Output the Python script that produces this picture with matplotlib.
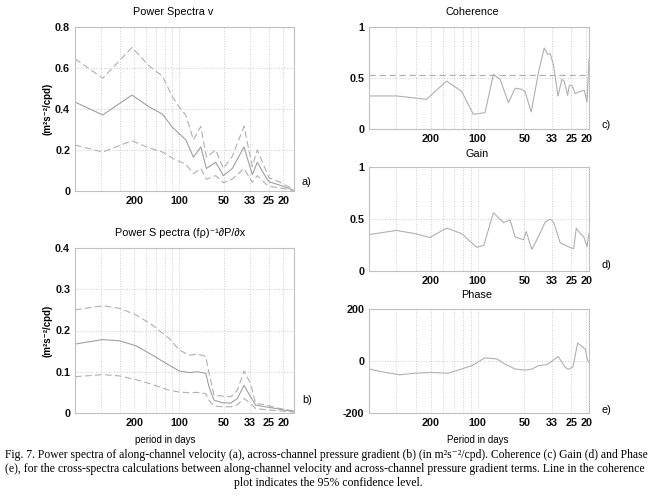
import numpy as np
import matplotlib
matplotlib.use("Agg")
import matplotlib.pyplot as plt

plt.rcParams['font.family'] = ['Liberation Sans', 'DejaVu Sans']

# x values are frequencies in cycles per day, tick labels give the period in days
tick_freq = [0.005, 0.01, 0.02, 0.03, 0.04, 0.05]
tick_period = ['200', '100', '50', '33', '25', '20']
grid_freq = [0.003, 0.004, 0.006, 0.007, 0.008, 0.009]

# (a) power spectra of v
fa = [0.0020, 0.00307, 0.00482, 0.00630, 0.00773, 0.00902, 0.0100, 0.01108, 0.01247,
      0.01397, 0.01525, 0.0176, 0.0198, 0.02276, 0.02725, 0.03097, 0.03346, 0.0380,
      0.04006, 0.04674, 0.05453, 0.0583]
va = [0.434, 0.371, 0.468, 0.41, 0.375, 0.31, 0.28, 0.25, 0.165, 0.215, 0.11, 0.14,
      0.075, 0.11, 0.215, 0.08, 0.14, 0.07, 0.045, 0.03, 0.013, 0.003]
va_hi = [0.645, 0.55, 0.70, 0.61, 0.56, 0.46, 0.41, 0.37, 0.25, 0.315, 0.165, 0.2,
         0.11, 0.17, 0.315, 0.12, 0.2, 0.105, 0.065, 0.045, 0.02, 0.005]
va_lo = [0.224, 0.19, 0.245, 0.21, 0.19, 0.16, 0.145, 0.13, 0.085, 0.11, 0.057, 0.075,
         0.04, 0.058, 0.11, 0.042, 0.075, 0.036, 0.023, 0.016, 0.007, 0.002]

# (b) power spectra of pressure gradient term
fb = [0.0020, 0.00307, 0.00397, 0.00513, 0.00663, 0.00857, 0.0100, 0.01167, 0.01327,
      0.01509, 0.01588, 0.01715, 0.0195, 0.02218, 0.02459, 0.02725, 0.0302, 0.0326,
      0.0380, 0.0444, 0.0518, 0.0589]
vb = [0.167, 0.178, 0.175, 0.163, 0.140, 0.116, 0.102, 0.098, 0.100, 0.096, 0.063,
      0.031, 0.025, 0.024, 0.035, 0.067, 0.039, 0.019, 0.015, 0.011, 0.0065, 0.004]
vb_hi = [0.250, 0.260, 0.254, 0.238, 0.213, 0.181, 0.153, 0.140, 0.143, 0.137, 0.096,
         0.043, 0.041, 0.039, 0.055, 0.102, 0.071, 0.023, 0.020, 0.013, 0.008, 0.005]
vb_lo = [0.088, 0.093, 0.090, 0.081, 0.069, 0.055, 0.051, 0.049, 0.050, 0.047, 0.031,
         0.017, 0.015, 0.015, 0.020, 0.035, 0.023, 0.011, 0.008, 0.006, 0.004, 0.002]

# (c) coherence
fc = [0.0020, 0.00300, 0.00469, 0.00631, 0.00788, 0.00938, 0.01115, 0.01262, 0.01394,
      0.01577, 0.01741, 0.01922, 0.02020, 0.02209, 0.02463, 0.02679, 0.02815, 0.02929,
      0.03077, 0.03283, 0.03483, 0.03606, 0.03789, 0.03884, 0.04040, 0.04246, 0.04573,
      0.04853, 0.05050, 0.0520]
coh = [0.324, 0.324, 0.291, 0.47, 0.369, 0.144, 0.16, 0.536, 0.487, 0.258, 0.40, 0.389,
       0.363, 0.167, 0.559, 0.794, 0.732, 0.739, 0.624, 0.324, 0.487, 0.467, 0.33,
       0.428, 0.428, 0.346, 0.369, 0.379, 0.265, 0.69]
coh_95 = 0.53

# (d) gain
fd = [0.0020, 0.00300, 0.00394, 0.00493, 0.00631, 0.00788, 0.00985, 0.01095, 0.01262,
      0.01464, 0.01617, 0.01741, 0.01971, 0.02050, 0.02230, 0.02402, 0.02718, 0.02929,
      0.03077, 0.03398, 0.03942, 0.04142, 0.04308, 0.04573, 0.04806, 0.05050, 0.0520]
gain = [0.35, 0.39, 0.36, 0.322, 0.413, 0.36, 0.228, 0.247, 0.56, 0.465, 0.49, 0.329,
        0.30, 0.38, 0.208, 0.30, 0.47, 0.50, 0.47, 0.27, 0.225, 0.215, 0.41, 0.36,
        0.33, 0.235, 0.36]

# (e) phase
fe = [0.0020, 0.00240, 0.00315, 0.00394, 0.00505, 0.00647, 0.0075, 0.00915, 0.01035,
      0.01115, 0.01326, 0.01501, 0.01741, 0.0202, 0.0223, 0.02463, 0.02788, 0.02929,
      0.03299, 0.0366, 0.03846, 0.04101, 0.04396, 0.04926, 0.05076, 0.0520]
phase = [-31, -41, -53, -47, -44, -47, -35, -18, 1, 12, 8, -12, -31, -35, -31, -18,
         -14, -5, 17, -25, -32, -22, 69, 46, 4, -5]

line_col = '#b0b0b0'
grid_col = '#cccccc'
dash = (0, (6, 3))

fig = plt.figure(figsize=(6.57, 4.97), dpi=100)


def setup(ax, xmax, yticks, ylabels, ylim):
    ax.set_xscale('log')
    ax.set_xlim(0.002, xmax)
    ax.set_ylim(*ylim)
    ax.set_xticks(tick_freq)
    ax.set_xticklabels(tick_period)
    ax.set_xticks(grid_freq, minor=True)
    ax.set_xticklabels([], minor=True)
    ax.set_yticks(yticks)
    ax.set_yticklabels(ylabels)
    ax.tick_params(which='both', length=0, labelsize=7.8, pad=3.5, colors='#111111')
    for lab in ax.get_xticklabels() + ax.get_yticklabels():
        lab.set_fontweight('bold')
    ax.grid(which='both', axis='x', color=grid_col, linestyle=':', linewidth=0.7)
    ax.grid(which='major', axis='y', color=grid_col, linestyle=':', linewidth=0.7)
    for s in ax.spines.values():
        s.set_color('#c0c0c0')
        s.set_linewidth(0.8)


# panel a
ax = fig.add_axes([75 / 657, 1 - 191 / 497, 219 / 657, 164 / 497])
ax.plot(fa, va_hi, color=line_col, lw=0.8, ls=dash)
ax.plot(fa, va, color='#a0a0a0', lw=0.8)
ax.plot(fa, va_lo, color=line_col, lw=0.8, ls=dash)
setup(ax, 0.059, [0, 0.2, 0.4, 0.6, 0.8], ['0', '0.2', '0.4', '0.6', '0.8'], (0, 0.8))
ax.set_ylabel('(m²s⁻²/cpd)', fontsize=7, fontweight='bold', labelpad=2)

# panel b
ax = fig.add_axes([75 / 657, 1 - 413 / 497, 219 / 657, 165 / 497])
ax.plot(fb, vb_hi, color=line_col, lw=0.8, ls=dash)
ax.plot(fb, vb, color='#a0a0a0', lw=0.8)
ax.plot(fb, vb_lo, color=line_col, lw=0.8, ls=dash)
setup(ax, 0.059, [0, 0.1, 0.2, 0.3, 0.4], ['0', '0.1', '0.2', '0.3', '0.4'], (0, 0.4))
ax.set_ylabel('(m²s⁻²/cpd)', fontsize=7, fontweight='bold', labelpad=2)

# panel c
ax = fig.add_axes([369 / 657, 1 - 129 / 497, 220 / 657, 102 / 497])
ax.plot(fc, coh, color=line_col, lw=0.8)
ax.axhline(coh_95, color='#b0b0b0', lw=0.9, ls=(0, (5, 3)))
setup(ax, 0.052, [0, 0.5, 1], ['0', '0.5', '1'], (0, 1))

# panel d
ax = fig.add_axes([369 / 657, 1 - 271 / 497, 220 / 657, 104 / 497])
ax.plot(fd, gain, color=line_col, lw=0.8)
setup(ax, 0.052, [0, 0.5, 1], ['0', '0.5', '1'], (0, 1))

# panel e
ax = fig.add_axes([369 / 657, 1 - 413 / 497, 220 / 657, 104 / 497])
ax.plot(fe, phase, color=line_col, lw=0.8)
setup(ax, 0.052, [-200, 0, 200], ['-200', '0', '200'], (-200, 200))


def ftext(x, y, s, **kw):
    fig.text(x / 657, 1 - y / 497, s, **kw)


ftext(173, 12, 'Power Spectra v', fontsize=7.8, ha='center', va='center')
ftext(180, 233, 'Power S pectra (fρ)⁻¹∂P/∂x', fontsize=7.8, ha='center', va='center')
ftext(472, 12, 'Coherence', fontsize=7.8, ha='center', va='center')
ftext(477, 154, 'Gain', fontsize=7.8, ha='center', va='center')
ftext(477, 295, 'Phase', fontsize=7.8, ha='center', va='center')

ftext(302, 182, 'a)', fontsize=7.8, va='center')
ftext(302, 400, 'b)', fontsize=7.8, va='center')
ftext(601, 125, 'c)', fontsize=7.8, va='center')
ftext(601, 265, 'd)', fontsize=7.8, va='center')
ftext(601, 410, 'e)', fontsize=7.8, va='center')

ftext(165, 440, 'period in days', fontsize=7, ha='center', va='center')
ftext(478, 440, 'Period in days', fontsize=7, ha='center', va='center')

cap1 = ('Fig. 7. Power spectra of along-channel velocity (a), across-channel pressure gradient (b) '
        '(in m²s⁻²/cpd). Coherence (c) Gain (d) and Phase')
cap2 = ('(e), for the cross-spectra calculations between along-channel velocity and across-channel '
        'pressure gradient terms. Line in the coherence')
cap3 = 'plot indicates the 95% confidence level.'
serif = ['Liberation Serif', 'DejaVu Serif']
ftext(5, 455, cap1, fontsize=8.4, family=serif, va='center')
ftext(5, 469, cap2, fontsize=8.5, family=serif, va='center')
ftext(328, 483, cap3, fontsize=8.5, family=serif, ha='center', va='center')

fig.savefig('out.png', dpi=100)
